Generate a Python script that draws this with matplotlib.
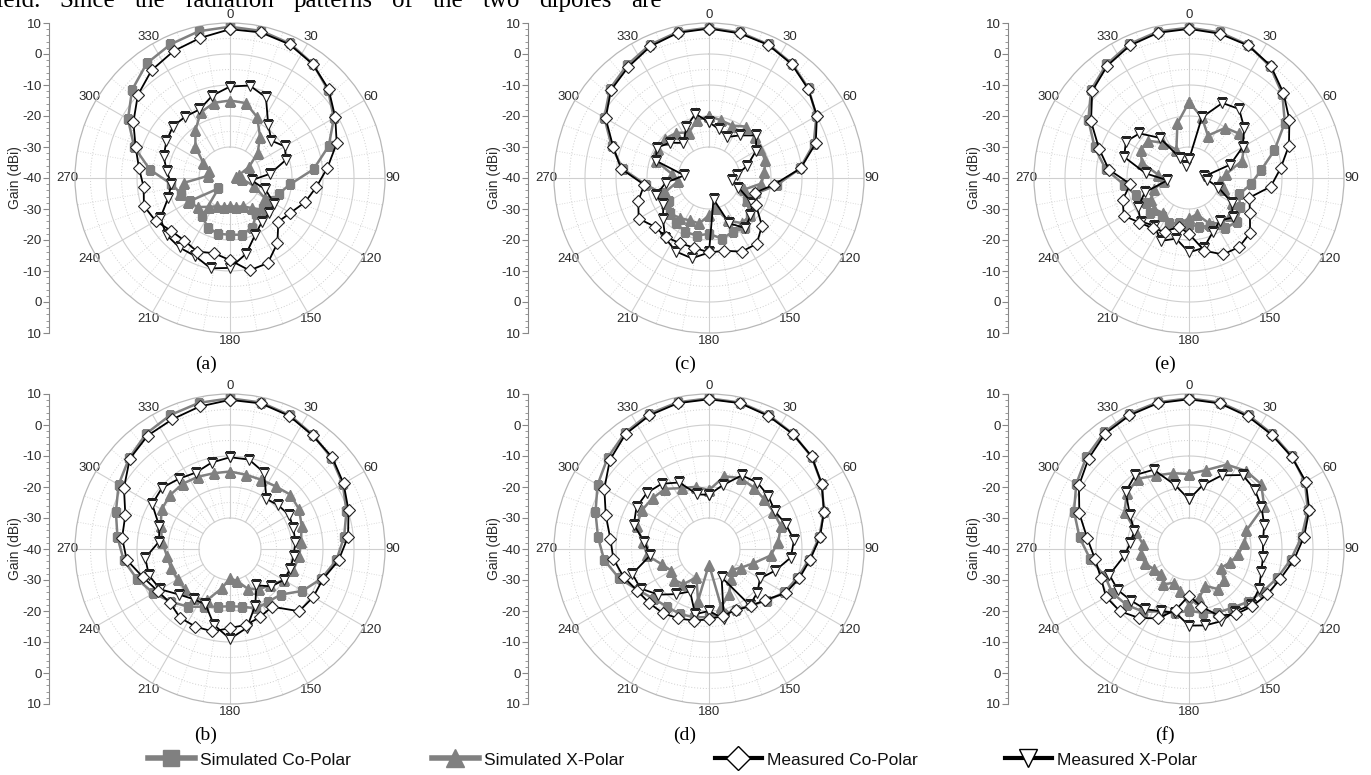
import numpy as np
import matplotlib

matplotlib.use("Agg")
import matplotlib.pyplot as plt  # noqa: E402
from matplotlib.lines import Line2D  # noqa: E402

W, H = 1371, 775
R_PX = 155

# sampled every 12 degrees, clockwise from the top
ANGLES = list(range(0, 360, 12))
THETA_LABELS = list(range(0, 360, 30))
GAIN_TICKS = [10, 0, -10, -20, -30, -40, -30, -20, -10, 0, 10]

TOP_WORDS = ["field.", "Since", "the", "radiation", "patterns", "of", "the", "two", "dipoles", "are"]

# (a)
a_sim_co = [8.8, 8.5, 7.5, 5.5, 2.5, -1.3, -6.5, -12.9, -20.5, -23.5, -25, -25.5, -25.5, -22.5, -21.3,
            -21.7, -21.6, -22.5, -24.7, -35, -25, -23.5, -21, -14, -7.5, -2, 2.5, 5.7, 7.2, 8.4]
a_sim_x = [-15, -15.3, -18.5, -23.5, -28, -33, -37, -38, -36, -32, -27, -24.5, -28, -30, -30.5,
           -31, -30.5, -30, -28.5, -26, -24.5, -23, -25, -33, -33, -30, -25, -21, -16.8, -15.2]
a_meas_co = [8, 8, 7.2, 5.4, 2.8, -0.8, -3.8, -8.4, -12, -14.6, -17.5, -19, -14, -10, -9.5,
             -13.5, -15.2, -14, -15, -14.5, -12.3, -10.8, -12, -10.5, -8, -4, 0, 3, 4.8, 6.2]
a_meas_x = [-10.5, -9.5, -11.5, -19, -22, -19.6, -21, -27, -33, -28, -23.5, -23, -22.5, -20, -15,
            -11, -10.2, -12.4, -12.3, -12.5, -14, -19, -21, -19.5, -17.5, -16.3, -15.2, -15.5, -15.8, -12.8]

# (b)
b_sim_co = [8.6, 8.3, 7.3, 5.5, 4, 2, -0.5, -3, -5.5, -9, -13, -18, -19, -19, -21,
            -21.5, -21, -19.6, -17, -14.5, -11.5, -8.5, -5.5, -3.5, -1.3, 1.5, 3.8, 6, 7.3, 8.2]
b_sim_x = [-15, -15.5, -15.5, -15, -13.8, -14.3, -15.7, -17, -17.5, -18.5, -20, -22.5, -24, -26, -29.5,
           -30.5, -27, -22, -20.5, -20.5, -20.5, -20, -19.5, -18, -16.5, -14.5, -14, -14, -14.5, -15]
b_meas_co = [8.1, 8, 7, 5.3, 4.3, 2.3, 0.2, -1.7, -4.8, -8.5, -9, -10, -17, -16, -15,
             -14.5, -12.8, -12.6, -12.6, -14, -13, -10.5, -6.5, -5, -4.5, -0.5, 3.5, 5.2, 5.8, 7]
b_meas_x = [-10.4, -10.5, -13, -20, -19, -18, -18.5, -18.8, -19.4, -19.5, -20, -22, -25.5, -20, -14,
            -11, -15, -20.5, -20, -18, -14, -12.5, -12.5, -17, -16, -11, -10.5, -12, -13, -11.5]

# (c)
c_sim_co = [8.5, 8, 7.2, 5.6, 3.2, 0, -4.5, -10.5, -18, -24, -26, -22, -20, -21, -20,
            -22, -21, -21, -22, -23, -25, -24, -19.5, -12, -7, -1, 3, 5, 7, 8.2]
c_sim_x = [-20, -21, -21.5, -19.5, -20, -21, -21, -22, -23, -28, -26, -22, -22, -25, -30,
           -28, -25, -25, -24, -23, -24, -25, -30, -28, -22, -21, -21, -22, -24, -21]
c_meas_co = [8.2, 7.7, 7, 5.4, 3, 0.2, -3.8, -10.3, -19, -24.5, -22.5, -17, -13.8, -14, -16,
             -16, -17, -17, -16.4, -16.5, -13.8, -16, -19, -11.5, -7.5, -1.5, 2.5, 4.3, 6.5, 7.9]
c_meas_x = [-22, -24, -25.5, -23, -19.5, -22.5, -27, -31, -32.5, -30, -24, -22, -20, -24, -33,
            -16, -13.5, -14, -16, -20, -23, -22, -26, -32, -22, -20.5, -23, -26, -22, -18.8]

# (d)
d_sim_co = [8.6, 8.3, 7.3, 6, 4.5, 2, -1, -4.3, -7.5, -10, -12, -15, -17.5, -18.5, -18.5,
            -18, -17.5, -17, -17, -16, -13.5, -9.5, -6, -4, -1.5, 1.5, 4, 6.2, 7.7, 8.4]
d_sim_x = [-21, -16, -15, -15.5, -16, -16, -15.7, -17.5, -20, -25, -28, -30, -28, -24, -21,
           -35, -23, -30, -26, -25, -26, -24, -20, -18.5, -15.5, -15, -15.5, -16, -18.5, -19.5]
d_meas_co = [8.3, 8.1, 7, 5.9, 4.6, 2, -1, -4, -7.2, -9.4, -11.5, -15.5, -17.2, -18.5, -18,
             -17.3, -16.4, -15.5, -14.5, -14, -13.2, -11, -9, -8, -5, -1, 3, 5.8, 7.2, 8.1]
d_meas_x = [-22.5, -19, -14, -13.5, -14.3, -15.5, -14, -12.4, -13.5, -17.5, -21, -19, -17.6, -30, -17,
            -20, -18.5, -25, -22, -18, -14.5, -14, -21, -19, -14.5, -13, -13, -14, -16.5, -22]

# (e)
e_sim_co = [8.5, 8, 7, 4.5, 0.5, -4.3, -11, -16.7, -20, -23, -21, -19, -20, -23, -24,
            -25, -25, -24, -25, -23, -24, -22, -19, -13, -8, -2.5, 2.5, 5.3, 7.3, 8.3]
e_sim_x = [-15.5, -20, -25, -20, -18.5, -19.5, -22, -28, -30, -28, -24, -22, -22, -24, -28,
           -27, -25, -24, -26, -25, -26, -28, -32, -30, -24, -22, -22, -26, -30, -22]
e_meas_co = [8.1, 7.6, 6.8, 4.8, 1, -2.6, -6.1, -10.3, -13.5, -19.5, -17.3, -13.5, -12.5, -13, -16,
             -22, -24, -21, -20, -18.5, -15.7, -17.5, -21, -14, -9.5, -3.5, 2, 4.8, 6.8, 7.9]
e_meas_x = [-34, -20, -13.5, -12.5, -16, -20, -26, -35, -34, -30, -24, -21, -23, -21, -17,
            -16, -20, -17.8, -21, -19, -21, -25, -33, -26, -18, -16.5, -18.5, -24, -33, -36]

# (f)
f_sim_co = [8.6, 8.3, 7.2, 5.8, 4.7, 3.2, 0.3, -3.5, -7, -10, -12.5, -14.5, -16.5, -17.5, -19,
            -20, -19, -18, -15, -13, -11.5, -11.5, -8, -4.5, -1, 2, 4.5, 6.5, 7.7, 8.4]
f_sim_x = [-15.8, -14, -10.2, -8.8, -8.7, -12, -20.5, -22, -24, -26, -28, -25, -24, -27, -24,
           -22, -26, -28, -26, -28, -27, -25, -24.5, -25, -22, -16, -13, -12, -14, -15]
f_meas_co = [8.3, 8, 6.8, 5.5, 4.5, 3.5, 0.8, -2.7, -6, -9, -10.8, -12.5, -14, -16.5, -21,
             -25, -20, -15.5, -12.5, -10, -9.1, -10.1, -9.5, -7, -2.8, 1, 3.6, 6, 7.2, 8.1]
f_meas_x = [-24, -19, -14, -10.5, -11.4, -13, -14.5, -16, -16, -15.5, -14, -13, -15, -14.5, -14.8,
            -15.3, -19, -18, -16, -15, -13.5, -13, -19, -21, -21.5, -18, -12.5, -10.5, -12, -19]

PANELS = [
    ("(a)", 230, 178, a_sim_co, a_sim_x, a_meas_co, a_meas_x),
    ("(c)", 709, 178, c_sim_co, c_sim_x, c_meas_co, c_meas_x),
    ("(e)", 1189, 178, e_sim_co, e_sim_x, e_meas_co, e_meas_x),
    ("(b)", 230, 549, b_sim_co, b_sim_x, b_meas_co, b_meas_x),
    ("(d)", 709, 549, d_sim_co, d_sim_x, d_meas_co, d_meas_x),
    ("(f)", 1189, 549, f_sim_co, f_sim_x, f_meas_co, f_meas_x),
]

GRAY = "#808080"
GRID = "#cfcfcf"
TXT = "#2b2b2b"
SANS = ["Liberation Sans", "DejaVu Sans"]
SERIF = ["Liberation Serif", "DejaVu Serif"]

STYLES = {
    "sim_co": dict(color=GRAY, lw=1.8, marker="s", ms=5.5, mfc=GRAY, mec=GRAY, zorder=3),
    "sim_x": dict(color=GRAY, lw=1.8, marker="^", ms=6.5, mfc=GRAY, mec=GRAY, zorder=3),
    "meas_co": dict(color="black", lw=1.3, marker="D", ms=6, mfc="white", mec="#222222",
                    mew=0.8, zorder=5),
    "meas_x": dict(color="black", lw=1.3, marker="v", ms=7.5, mfc="white", mec="#222222",
                   mew=0.8, zorder=4),
}


def closed(vals):
    th = np.deg2rad(ANGLES + [360])
    return th, list(vals) + [vals[0]]


def add_panel(fig, label, cx, cy, sim_co, sim_x, meas_co, meas_x):
    ax = fig.add_axes([(cx - R_PX) / W, 1 - (cy + R_PX) / H, 2 * R_PX / W, 2 * R_PX / H],
                      projection="polar")
    ax.set_theta_zero_location("N")
    ax.set_theta_direction(-1)
    ax.set_ylim(-40, 10)
    ax.grid(False)
    ax.set_yticks([])
    ax.set_xticks(np.deg2rad(THETA_LABELS))
    ax.set_xticklabels([str(t) for t in THETA_LABELS], fontsize=9.5, color=TXT, family=SANS)
    ax.tick_params(axis="x", pad=-5)
    ax.spines["polar"].set_color("#b8b8b8")
    ax.spines["polar"].set_linewidth(0.9)

    # grid drawn by hand so that it stops at the -30 ring
    full = np.linspace(0, 2 * np.pi, 361)
    for r in (-30, -20, -10, 0):
        ax.plot(full, np.full_like(full, r), color=GRID, lw=0.8, zorder=1)
    for r in (-25, -15, -5, 5):
        ax.plot(full, np.full_like(full, r), color=GRID, lw=0.7, ls=(0, (1, 2)), zorder=1)
    for t in range(0, 360, 10):
        rad = np.deg2rad(t)
        if t % 30 == 0:
            ax.plot([rad, rad], [-30, 10], color=GRID, lw=0.8, zorder=1)
        else:
            ax.plot([rad, rad], [-30, 10], color=GRID, lw=0.6, ls=(0, (1, 2)), zorder=1)

    for key, vals in (("sim_co", sim_co), ("sim_x", sim_x), ("meas_x", meas_x), ("meas_co", meas_co)):
        th, rr = closed(vals)
        ax.plot(th, rr, **STYLES[key])

    # linear gain scale at the left
    gx = fig.add_axes([(cx - 181) / W, 1 - (cy + R_PX) / H, 0.0001, 2 * R_PX / H])
    gx.set_ylim(-50, 50)
    gx.set_yticks(np.arange(-50, 51, 10))
    gx.set_yticklabels([str(v) for v in GAIN_TICKS][::-1], fontsize=9.5, color=TXT, family=SANS)
    gx.set_yticks(np.arange(-50, 51, 2), minor=True)
    gx.tick_params(axis="y", which="major", length=4, width=0.8, color="#888888", pad=1)
    gx.tick_params(axis="y", which="minor", length=2, width=0.6, color="#888888")
    gx.set_xticks([])
    for s in ("top", "right", "bottom"):
        gx.spines[s].set_visible(False)
    gx.spines["left"].set_color("#888888")
    gx.patch.set_alpha(0)
    fig.text((cx - 215) / W, 1 - cy / H, "Gain (dBi)", rotation=90, ha="center", va="center",
             fontsize=10, color=TXT, family=SANS)

    fig.text((cx - 24) / W, 1 - (cy + 186) / H, label, ha="center", va="center",
             fontsize=14, family=SERIF)


def top_line(fig, x0=-12, x1=662, baseline=7):
    # justified body-text line cut by the top edge of the figure
    texts = [fig.text(0, 1 - baseline / H, w, ha="left", va="baseline", fontsize=18, family=SERIF)
             for w in TOP_WORDS]
    rend = fig.canvas.get_renderer()
    widths = [t.get_window_extent(rend).width for t in texts]
    gap = (x1 - x0 - sum(widths)) / (len(texts) - 1)
    x = x0
    for t, w in zip(texts, widths):
        t.set_x(x / W)
        x += w + gap


def main() -> None:
    fig = plt.figure(figsize=(W / 100, H / 100), dpi=100)
    fig.patch.set_facecolor("white")

    top_line(fig)

    for p in PANELS:
        add_panel(fig, *p)

    entries = [
        (148, "Simulated Co-Polar", dict(color=GRAY, lw=4, marker="s", ms=11, mfc=GRAY, mec=GRAY)),
        (432, "Simulated X-Polar", dict(color=GRAY, lw=4, marker="^", ms=13, mfc=GRAY, mec=GRAY)),
        (715, "Measured Co-Polar", dict(color="black", lw=3, marker="D", ms=12, mfc="white",
                                        mec="black", mew=1)),
        (1005, "Measured X-Polar", dict(color="black", lw=3, marker="v", ms=13, mfc="white",
                                        mec="black", mew=1)),
    ]
    for x, name, st in entries:
        h = Line2D([], [], **st)
        leg = fig.legend([h], [name], loc="center left", bbox_to_anchor=(x / W, 1 - 760 / H),
                         frameon=False, borderpad=0, borderaxespad=0, handlelength=2.7,
                         handletextpad=0.3, prop={"family": SANS, "size": 12.5})
        for t in leg.get_texts():
            t.set_color("#111111")

    fig.savefig("out.png", dpi=100)
    plt.close(fig)


if __name__ == "__main__":
    main()
